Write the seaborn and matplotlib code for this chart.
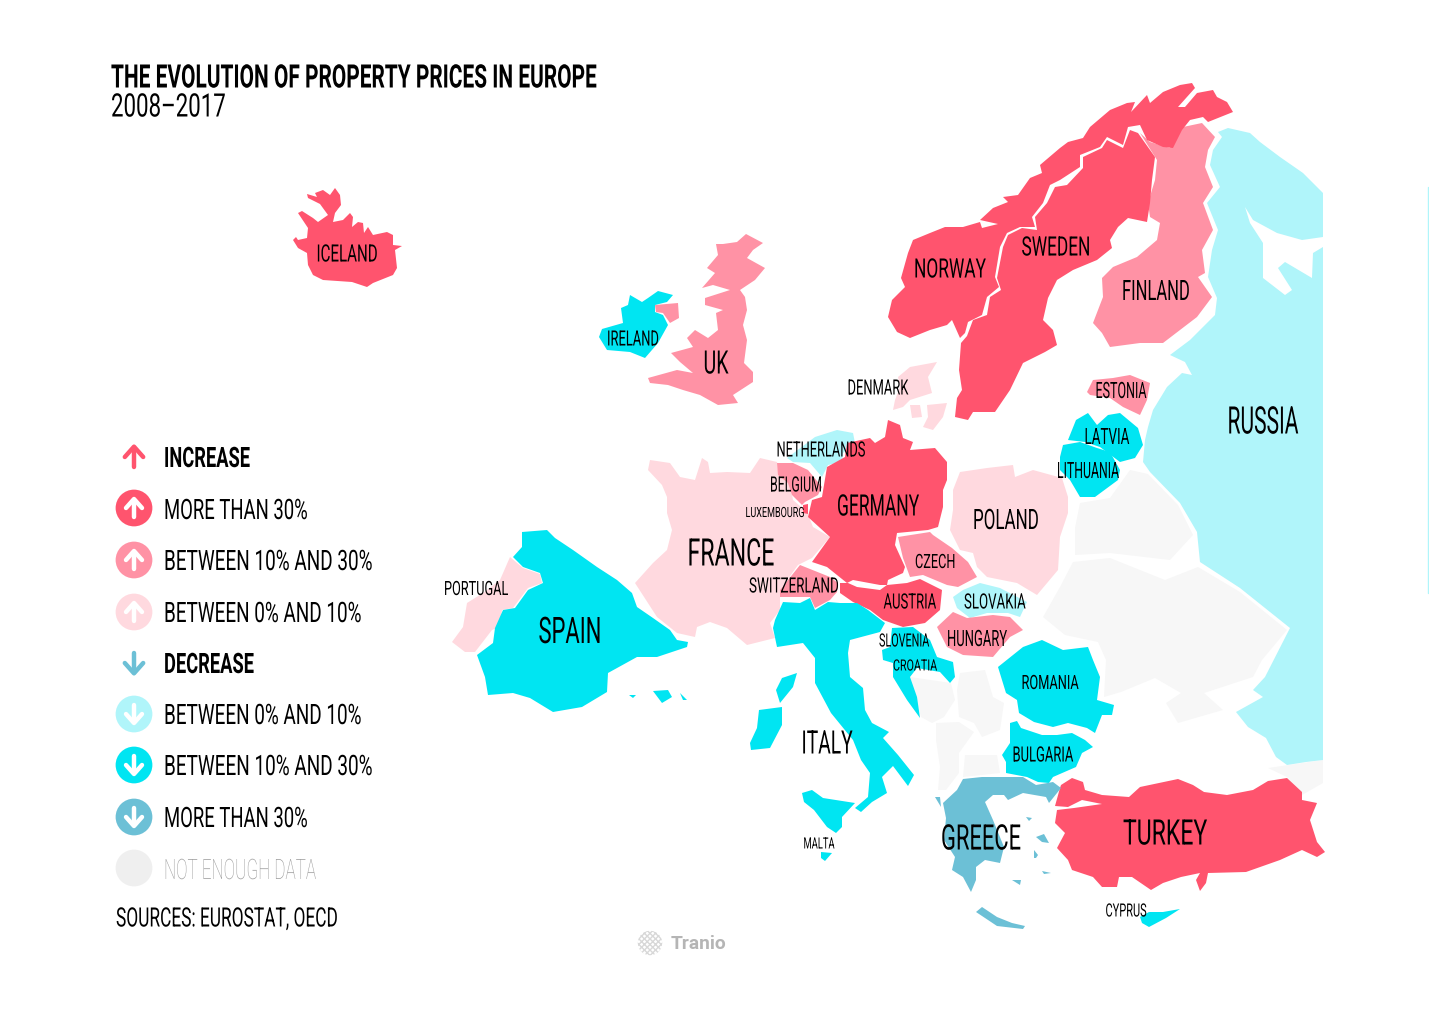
import pandas as pd
import seaborn as sns
import matplotlib.pyplot as plt
from matplotlib.patheffects import AbstractPathEffect
from matplotlib.transforms import Affine2D, Bbox

# outlines are in picture pixels (x, y)
ICELAND = [(293,240),(296,237),(298,240),(307,238),(308,228),(298,213),(302,211),(313,218),(318,222),(328,215),(320,204),(308,198),(307,194),(317,197),(315,193),(323,190),(330,195),(335,188),(340,195),(341,205),(335,213),(333,222),(343,220),(350,213),(353,217),(352,227),(358,222),(363,223),(364,233),(368,227),(373,235),(387,232),(393,235),(393,245),(402,246),(395,250),(397,268),(393,275),(373,283),(367,287),(352,282),(323,280),(313,275),(308,265),(307,253),(298,248)]
NORWAY = [(888,317),(892,300),(905,287),(901,278),(908,253),(913,240),(930,233),(945,227),(963,227),(980,222),(982,228),(998,224),(980,220),(993,208),(1008,202),(1003,197),(1018,195),(1030,178),(1042,173),(1040,165),(1060,148),(1068,142),(1083,138),(1090,127),(1110,110),(1127,103),(1135,102),(1131,112),(1147,95),(1150,103),(1163,92),(1180,85),(1192,83),(1195,88),(1178,107),(1185,107),(1197,93),(1213,90),(1217,97),(1227,102),(1233,112),(1208,122),(1203,117),(1190,120),(1182,130),(1173,148),(1163,147),(1147,140),(1140,125),(1128,127),(1123,145),(1107,137),(1100,147),(1080,155),(1080,167),(1060,180),(1050,185),(1043,203),(1032,217),(1035,227),(1020,227),(1007,233),(1000,247),(995,277),(999,287),(987,297),(982,315),(968,322),(965,333),(960,338),(952,320),(947,325),(930,330),(910,338),(897,332)]
SWEDEN = [(955,417),(957,398),(962,390),(959,370),(961,343),(967,336),(973,320),(987,315),(990,297),(1001,290),(997,278),(1003,247),(1008,235),(1022,228),(1037,230),(1035,217),(1047,203),(1055,187),(1067,185),(1083,168),(1083,157),(1102,148),(1107,140),(1123,148),(1130,130),(1138,133),(1155,157),(1152,180),(1150,203),(1147,222),(1128,218),(1118,227),(1110,240),(1112,248),(1097,260),(1073,270),(1057,280),(1048,298),(1043,320),(1053,330),(1057,345),(1045,352),(1023,363),(1010,390),(995,412),(973,412),(968,420)]
FINLAND = [(1140,133),(1150,142),(1170,148),(1183,127),(1202,123),(1215,137),(1208,150),(1205,167),(1213,187),(1203,203),(1213,230),(1202,250),(1205,273),(1198,277),(1212,297),(1197,317),(1163,343),(1140,343),(1110,347),(1102,333),(1093,323),(1103,297),(1102,278),(1113,267),(1137,257),(1157,240),(1160,223),(1150,217),(1148,203),(1155,180),(1157,160)]
RUSSIA = [(1218,132),(1228,128),(1250,133),(1260,142),(1280,157),(1303,173),(1323,193),(1323,237),(1302,240),(1277,233),(1253,220),(1245,207),(1250,223),(1263,243),(1263,278),(1285,295),(1292,290),(1278,268),(1285,262),(1312,278),(1313,253),(1323,247),(1323,760),(1306,762),(1287,765),(1276,757),(1266,738),(1248,727),(1236,712),(1263,697),(1253,690),(1265,677),(1290,628),(1240,588),(1200,562),(1197,532),(1180,503),(1150,472),(1143,462),(1145,440),(1148,427),(1153,410),(1167,387),(1182,373),(1192,375),(1185,362),(1170,355),(1190,340),(1215,315),(1217,298),(1208,277),(1212,250),(1218,230),(1207,203),(1220,187),(1210,165),(1213,150),(1222,137)]
BELARUS = [(1075,528),(1080,503),(1110,498),(1130,470),(1148,474),(1178,505),(1193,535),(1170,560),(1110,553),(1075,555)]
UKRAINE = [(1043,617),(1060,587),(1073,562),(1110,558),(1165,580),(1198,567),(1240,592),(1287,630),(1262,660),(1253,677),(1204,693),(1223,710),(1178,723),(1166,703),(1181,693),(1155,678),(1121,692),(1104,697),(1106,660),(1098,642),(1065,635)]
BOSNIA = [(910,677),(951,683),(955,700),(944,717),(932,723),(921,717)]
SERBIA = [(960,673),(985,670),(993,697),(1004,703),(1000,730),(982,737),(974,723),(959,717),(957,690)]
ALBANIA = [(936,723),(959,722),(974,732),(959,753),(959,773),(946,790),(938,790),(940,767),(936,740)]
MACEDONIA = [(965,755),(997,755),(1000,773),(963,777)]
GEORGIA = [(1268,768),(1323,760),(1323,783),(1302,795),(1287,777)]
TURKEY = [(1061,785),(1072,778),(1083,782),(1085,790),(1102,795),(1129,797),(1140,787),(1178,779),(1193,785),(1204,792),(1227,795),(1253,790),(1268,781),(1287,778),(1302,792),(1302,800),(1317,803),(1310,820),(1317,842),(1325,852),(1317,857),(1302,850),(1280,860),(1246,872),(1208,873),(1206,883),(1200,891),(1196,880),(1200,873),(1181,877),(1163,883),(1151,890),(1132,877),(1119,877),(1117,887),(1102,887),(1093,877),(1072,870),(1068,860),(1057,848),(1065,833),(1055,823),(1057,810),(1074,808),(1102,804),(1082,800),(1068,807),(1055,806),(1060,788)]
CYPRUS = [(1140,917),(1149,912),(1163,912),(1180,909),(1166,918),(1149,927),(1142,923)]
GREECE = [(963,779),(982,777),(997,777),(1023,777),(1036,785),(1053,782),(1061,788),(1049,803),(1046,797),(1023,793),(1008,800),(1004,795),(993,795),(985,802),(993,820),(1004,847),(1000,863),(985,860),(976,867),(976,880),(971,892),(963,877),(952,870),(955,857),(944,840),(946,818),(943,803),(957,790)]
CRETE = [(976,912),(982,907),(997,917),(1012,923),(1025,926),(1023,929),(997,926)]
AEGEAN_A = [(1036,837),(1044,834),(1049,843),(1042,842)]
AEGEAN_B = [(1034,850),(1038,855),(1036,858),(1034,858)]
AEGEAN_C = [(1026,817),(1032,818),(1029,821)]
AEGEAN_D = [(935,797),(940,797),(941,807)]
AEGEAN_E = [(1012,880),(1021,880),(1020,885)]
AEGEAN_F = [(1042,871),(1051,873),(1044,874)]
BULGARIA = [(1010,723),(1017,721),(1021,728),(1042,735),(1057,735),(1072,733),(1085,740),(1093,747),(1082,753),(1076,767),(1053,777),(1049,783),(1038,782),(1027,777),(1006,773),(1006,762),(1002,755),(1010,743)]
ROMANIA = [(998,667),(1023,647),(1042,640),(1063,650),(1088,647),(1093,660),(1100,677),(1097,700),(1114,705),(1112,715),(1102,715),(1095,733),(1087,728),(1068,723),(1053,727),(1034,722),(1019,713),(1017,700),(1006,693)]
HUNGARY = [(937,627),(953,612),(967,618),(993,615),(1010,617),(1023,630),(1010,637),(993,657),(963,655),(947,647)]
SLOVAKIA = [(953,597),(963,590),(980,583),(1000,588),(1027,602),(1020,617),(1008,613),(987,613),(970,618),(957,608)]
POLAND = [(953,490),(960,472),(987,468),(1013,465),(1015,477),(1033,470),(1062,478),(1068,497),(1068,513),(1060,537),(1058,570),(1037,595),(1017,583),(987,577),(977,567),(973,553),(960,550),(950,530),(953,510)]
CZECH = [(898,537),(930,532),(933,535),(952,548),(968,562),(977,577),(958,587),(947,585),(923,575),(910,577),(903,558)]
AUSTRIA = [(840,583),(848,583),(857,587),(880,590),(887,585),(907,583),(920,579),(942,590),(940,610),(925,623),(903,627),(883,620),(870,610),(853,602),(840,593)]
GERMANY = [(888,420),(900,425),(903,438),(913,442),(910,450),(935,448),(947,462),(947,480),(943,490),(943,507),(938,527),(928,530),(897,533),(895,545),(905,567),(903,573),(888,580),(887,585),(880,585),(853,580),(847,583),(827,567),(812,562),(830,537),(808,517),(812,500),(822,497),(827,467),(845,457),(847,443),(870,438),(875,443),(885,437)]
NETHERLANDS = [(787,458),(815,437),(837,430),(853,433),(855,443),(843,453),(842,462),(828,465),(822,477),(810,463),(793,462)]
BELGIUM = [(777,463),(793,463),(808,470),(822,487),(818,495),(805,502),(802,505),(792,495),(788,483),(778,475)]
LUXEMBOURG = [(803,505),(808,504),(808,514),(803,513)]
SWITZERLAND = [(780,590),(800,565),(830,577),(838,583),(837,592),(830,600),(815,608),(810,597),(780,597)]
FRANCE = [(650,460),(670,463),(680,477),(695,480),(702,458),(708,462),(710,473),(727,472),(750,473),(760,458),(777,462),(778,470),(790,483),(793,500),(807,512),(813,527),(830,537),(812,558),(798,565),(780,590),(780,610),(770,623),(775,638),(747,645),(727,628),(710,622),(697,627),(695,637),(677,633),(657,617),(635,583),(653,563),(667,550),(672,530),(667,513),(667,497),(662,485),(648,470)]
SPAIN = [(522,532),(547,530),(555,538),(573,550),(597,567),(617,580),(632,593),(637,607),(653,618),(670,630),(677,640),(688,642),(687,647),(657,657),(637,657),(608,673),(607,692),(582,707),(553,712),(530,698),(513,693),(488,695),(485,677),(477,655),(493,643),(495,628),(503,610),(515,608),(528,590),(543,583),(540,573),(523,567),(513,557),(522,547)]
PORTUGAL = [(510,557),(523,568),(540,574),(542,583),(528,588),(513,608),(502,610),(500,627),(492,630),(475,652),(465,652),(452,642),(463,627),(467,603),(483,593),(500,580)]
MALLORCA = [(653,691),(668,690),(672,697),(662,703)]
IBIZA = [(629,695),(636,695),(633,698)]
MENORCA = [(680,693),(687,700),(683,700)]
ITALY = [(783,602),(800,603),(810,598),(815,610),(828,602),(840,603),(857,603),(868,610),(885,623),(880,632),(850,640),(848,653),(850,677),(863,688),(865,710),(872,723),(889,732),(883,738),(898,755),(914,775),(908,786),(893,766),(882,777),(887,793),(872,802),(861,812),(855,808),(868,797),(870,773),(861,760),(853,740),(831,713),(815,683),(815,658),(803,643),(777,647),(773,628),(775,620)]
SICILY = [(802,793),(812,790),(823,798),(855,803),(842,817),(842,827),(836,833),(827,827),(814,810),(804,802)]
SARDINIA = [(759,710),(782,707),(782,725),(770,748),(751,750),(750,743),(757,728)]
CORSICA = [(797,673),(793,687),(780,703),(776,690),(782,678)]
MALTA = [(821,852),(832,853),(825,861),(821,858)]
CROATIA = [(882,650),(890,647),(892,628),(913,627),(930,640),(937,657),(953,662),(955,677),(950,683),(940,672),(917,668),(910,677),(917,697),(920,718),(907,700),(893,677),(893,663),(883,660)]
LATVIA = [(1068,440),(1076,420),(1088,413),(1097,425),(1108,415),(1120,413),(1138,428),(1143,445),(1135,458),(1120,462),(1100,447),(1085,442)]
LITHUANIA = [(1060,457),(1063,445),(1080,442),(1097,448),(1110,452),(1120,470),(1118,480),(1095,497),(1080,497),(1070,480),(1060,470)]
ESTONIA = [(1087,392),(1093,380),(1113,378),(1130,375),(1150,383),(1147,400),(1140,415),(1123,407),(1110,398),(1090,395)]
JUTLAND = [(898,377),(910,367),(937,362),(928,377),(932,393),(910,400),(903,407),(893,410),(895,400),(900,387)]
FUNEN = [(910,405),(920,405),(922,417),(912,418)]
ZEALAND = [(927,405),(947,403),(943,417),(933,430),(923,427),(928,417)]
BRITAIN = [(746,234),(763,243),(753,250),(747,258),(765,268),(755,280),(740,290),(745,297),(747,310),(743,325),(747,340),(744,363),(753,372),(753,382),(733,395),(738,403),(718,405),(700,395),(683,390),(668,385),(650,383),(648,378),(677,370),(693,373),(680,362),(671,353),(693,347),(687,338),(695,330),(708,338),(718,330),(716,313),(723,310),(705,305),(705,298),(730,290),(713,285),(702,288),(715,273),(707,268),(718,255),(716,244),(723,244),(737,242)]
N_IRELAND = [(655,305),(678,303),(679,318),(670,323),(663,313),(656,312)]
IRELAND = [(630,295),(642,302),(648,298),(658,291),(673,295),(667,302),(655,305),(655,312),(663,315),(668,325),(658,343),(645,358),(630,352),(607,350),(599,337),(602,329),(623,323),(621,308),(628,305)]

NO_DATA = [BELARUS, UKRAINE, BOSNIA, SERBIA, ALBANIA, MACEDONIA, GEORGIA]
UP_STRONG = [ICELAND, NORWAY, SWEDEN, TURKEY, GERMANY, AUSTRIA, LUXEMBOURG]
UP_MID = [FINLAND, ESTONIA, BRITAIN, N_IRELAND, BELGIUM, SWITZERLAND, CZECH, HUNGARY]
UP_LIGHT = [FRANCE, PORTUGAL, POLAND, JUTLAND, FUNEN, ZEALAND]
DOWN_LIGHT = [RUSSIA, NETHERLANDS, SLOVAKIA]
DOWN_MID = [SPAIN, MALLORCA, IBIZA, MENORCA, ITALY, SICILY, SARDINIA, CORSICA, MALTA, IRELAND,
            CROATIA, ROMANIA, BULGARIA, LATVIA, LITHUANIA, CYPRUS]
DOWN_STRONG = [GREECE, CRETE, AEGEAN_A, AEGEAN_B, AEGEAN_C, AEGEAN_D, AEGEAN_E, AEGEAN_F]

C_UP_STRONG = "#FF546E"
C_UP_MID = "#FF92A5"
C_UP_LIGHT = "#FFD9DF"
C_DOWN_LIGHT = "#B0F5FA"
C_DOWN_MID = "#00E5F2"
C_DOWN_STRONG = "#6CC0D6"
C_NO_DATA = "#F7F7F7"

LABELS = ["ICELAND", "NORWAY", "SWEDEN", "FINLAND", "RUSSIA", "ESTONIA", "LATVIA", "LITHUANIA",
          "DENMARK", "UK", "IRELAND", "NETHERLANDS", "BELGIUM", "LUXEMBOURG", "GERMANY", "POLAND",
          "FRANCE", "CZECH", "SWITZERLAND", "AUSTRIA", "SLOVAKIA", "HUNGARY", "SLOVENIA", "CROATIA",
          "ROMANIA", "BULGARIA", "ITALY", "SPAIN", "PORTUGAL", "GREECE", "TURKEY", "MALTA", "CYPRUS"]
LABEL_X = [347, 950, 1056, 1156, 1263, 1121, 1107, 1088, 878, 716, 633, 821, 796, 775, 878, 1006,
           731, 935, 794, 910, 995, 977, 904, 915, 1050, 1043, 827, 570, 476, 981, 1165, 819, 1126]
LABEL_Y = [253, 268, 246, 290, 420, 390, 436, 470, 387, 362, 338, 449, 484, 512, 505, 519,
           552, 561, 585, 601, 601, 638, 640, 665, 682, 754, 742, 630, 588, 837, 832, 843, 910]
LABEL_W = [61, 72, 69, 68, 71, 51, 45, 62, 61, 25, 52, 89, 52, 59, 82, 66,
           87, 40, 90, 53, 62, 60, 50, 44, 57, 61, 51, 63, 64, 80, 84, 31, 41]
LABEL_H = [17, 19, 19, 20, 27, 16, 16, 16, 15, 23, 15, 15, 15, 10, 21, 20,
           27, 14, 15, 15, 15, 16, 13, 11, 14, 15, 23, 26, 14, 25, 25, 11, 13]

LEGEND_TEXT = ["INCREASE", "MORE THAN 30%", "BETWEEN 10% AND 30%", "BETWEEN 0% AND 10%", "DECREASE",
               "BETWEEN 0% AND 10%", "BETWEEN 10% AND 30%", "MORE THAN 30%", "NOT ENOUGH DATA"]
LEGEND_Y = [457, 509, 560, 612, 663, 714, 765, 817, 869]
LEGEND_W = [86, 144, 209, 198, 90, 198, 209, 144, 152]

CIRCLE_Y = [508, 560, 612, 714, 765, 817, 868]
CIRCLE_KEY = ["a", "b", "c", "d", "e", "f", "g"]
CIRCLE_COLORS = [C_UP_STRONG, C_UP_MID, C_UP_LIGHT, C_DOWN_LIGHT, C_DOWN_MID, C_DOWN_STRONG, "#EFEFEF"]

FONT = ["Roboto", "Liberation Sans", "DejaVu Sans"]


class Squeeze(AbstractPathEffect):
    # the poster font is a thin condensed face, none is installed, so squeeze the glyphs sideways
    def __init__(self, sx, x0):
        super().__init__()
        self.sx = sx
        self.x0 = x0

    def draw_path(self, renderer, gc, tpath, affine, rgbFace=None):
        t = affine + Affine2D().translate(-self.x0, 0).scale(self.sx, 1).translate(self.x0, 0)
        renderer.draw_path(gc, tpath, t, rgbFace)


def fit_text(ax, x, y, label, width, cap, ha="center", weight="normal", **kw):
    size = cap / 0.711 * 0.72
    t = ax.text(x, y + cap / 2, label, family=FONT, fontsize=size, weight=weight, ha=ha, va="baseline", **kw)
    full_extent = t.get_window_extent
    w = full_extent(ax.figure.canvas.get_renderer()).width
    x0 = ax.transData.transform((x, y))[0]
    sx = width / w
    t.set_path_effects([Squeeze(sx, x0)])

    # report the squeezed box, not the unsqueezed one
    def squeezed_extent(renderer=None, dpi=None):
        bb = full_extent(renderer, dpi)
        return Bbox.from_extents(x0 + (bb.x0 - x0) * sx, bb.y0, x0 + (bb.x1 - x0) * sx, bb.y1)

    t.get_window_extent = squeezed_extent
    return t


def draw_arrow(ax, x, y, up, color, lw, scale=1.0):
    d = -1 if up else 1
    ax.plot([x, x], [y - d * 9 * scale, y + d * 8 * scale], color=color, lw=lw, solid_capstyle="round", zorder=4)
    ax.plot([x - 8 * scale, x, x + 8 * scale], [y, y + d * 9 * scale, y], color=color, lw=lw,
            solid_capstyle="round", solid_joinstyle="round", zorder=4)


sns.set_theme(style="white")
fig = plt.figure(figsize=(14.29, 10.11), dpi=100)
ax = fig.add_axes([0, 0, 1, 1])
ax.set_xlim(0, 1429)
ax.set_ylim(1011, 0)
ax.set_autoscale_on(False)

groups = [(NO_DATA, C_NO_DATA), (DOWN_LIGHT, C_DOWN_LIGHT), (UP_LIGHT, C_UP_LIGHT), (UP_MID, C_UP_MID),
          (UP_STRONG, C_UP_STRONG), (DOWN_MID, C_DOWN_MID), (DOWN_STRONG, C_DOWN_STRONG)]
for polys, color in groups:
    for poly in polys:
        xs, ys = zip(*poly)
        ax.fill(xs, ys, color=color, lw=0)

# legend discs
discs = pd.DataFrame({"x": [134] * len(CIRCLE_Y), "y": CIRCLE_Y, "key": CIRCLE_KEY})
sns.scatterplot(data=discs, x="x", y="y", hue="key", palette=CIRCLE_COLORS, s=700, linewidth=0,
                legend=False, ax=ax, zorder=3)
for y, up in zip(CIRCLE_Y[:6], [True, True, True, False, False, False]):
    draw_arrow(ax, 134, y, up, "white", 3.2)
draw_arrow(ax, 134, 457, True, C_UP_STRONG, 3.2, 1.15)
draw_arrow(ax, 134, 663, False, C_DOWN_STRONG, 3.2, 1.15)

for label, y, w in zip(LEGEND_TEXT, LEGEND_Y, LEGEND_W):
    weight = "bold" if label in ("INCREASE", "DECREASE") else "normal"
    color = "black"
    if label.startswith("NOT"):
        weight, color = "light", "#9a9a9a"
    fit_text(ax, 164, y, label, w, 20, ha="left", weight=weight, color=color)
fit_text(ax, 116, 917, "SOURCES: EUROSTAT, OECD", 222, 19, ha="left", color="black")

fit_text(ax, 111, 76, "THE EVOLUTION OF PROPERTY PRICES IN EUROPE", 486, 23, ha="left", weight="bold", color="black")
fit_text(ax, 111, 105, "2008\u20132017", 115, 23, ha="left", color="black")

for label, x, y, w, h in zip(LABELS, LABEL_X, LABEL_Y, LABEL_W, LABEL_H):
    fit_text(ax, x, y, label, w, h, color="black", zorder=5)

# Tranio mark at the bottom
ax.scatter([650], [943], s=310, facecolor="none", edgecolor="#d8d8d8", hatch="xxxxxx", linewidth=0)
ax.text(671, 944, "Tranio", family="Roboto", weight="bold", fontsize=13.8, color="#b5b5b5", ha="left", va="center")

# thin stray edge on the far right of the page
ax.plot([1428, 1428], [187, 593], color=C_DOWN_LIGHT, lw=1)

ax.axis("off")
fig.savefig("out.png", dpi=100, facecolor="white")
plt.close(fig)
